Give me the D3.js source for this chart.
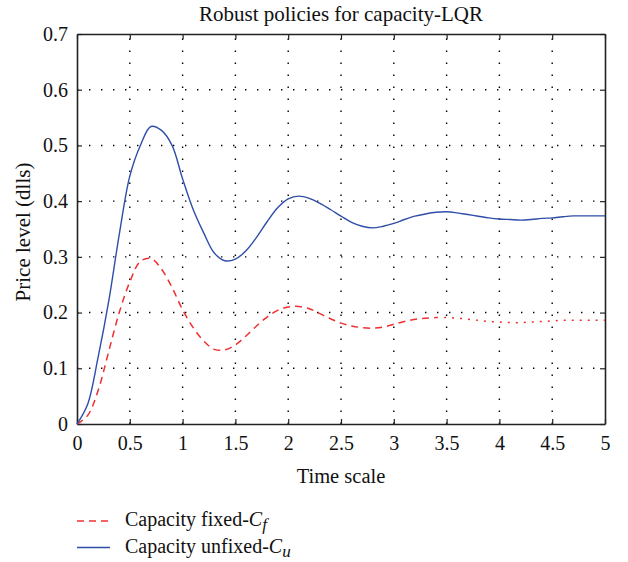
<!DOCTYPE html>
<html><head><meta charset="utf-8">
<script src="https://cdn.jsdelivr.net/npm/d3@7"></script>
<style>
body{margin:0;background:#fff;}
text{font-family:"Liberation Serif","Times New Roman","DejaVu Serif",serif;fill:#111;}
</style></head>
<body><svg id="c" width="628" height="562"></svg>
<script>
const title = "Robust policies for capacity-LQR";
const xLabel = "Time scale";
const yLabel = "Price level (dlls)";
const xTicks = [0,0.5,1,1.5,2,2.5,3,3.5,4,4.5,5];
const yTicks = [0,0.1,0.2,0.3,0.4,0.5,0.6,0.7];
const time = [0,0.1,0.2,0.3,0.4,0.5,0.6,0.7,0.8,0.9,1.0,1.1,1.2,1.3,1.4,1.5,1.6,1.7,1.8,1.9,2.0,2.1,2.2,2.3,2.4,2.5,2.6,2.7,2.8,2.9,3.0,3.1,3.2,3.3,3.4,3.5,3.6,3.7,3.8,3.9,4.0,4.1,4.2,4.3,4.4,4.5,4.6,4.7,4.8,4.9,5.0];
const capFixed = [0,0.015,0.06,0.13,0.20,0.255,0.292,0.297,0.278,0.245,0.205,0.173,0.149,0.134,0.133,0.142,0.158,0.176,0.192,0.204,0.210,0.211,0.207,0.198,0.189,0.181,0.176,0.173,0.172,0.174,0.179,0.184,0.188,0.190,0.191,0.191,0.190,0.188,0.186,0.184,0.183,0.182,0.182,0.183,0.184,0.185,0.186,0.186,0.186,0.186,0.186];
const capUnfixed = [0,0.035,0.12,0.22,0.34,0.445,0.50,0.534,0.527,0.50,0.44,0.385,0.343,0.307,0.293,0.296,0.311,0.335,0.363,0.388,0.404,0.409,0.405,0.396,0.385,0.373,0.362,0.355,0.352,0.355,0.360,0.367,0.373,0.377,0.380,0.381,0.379,0.376,0.373,0.370,0.368,0.367,0.366,0.367,0.369,0.370,0.372,0.3735,0.3735,0.3735,0.3735];
const dashedUntil = 3.4;
const FONT = '"Liberation Serif","Times New Roman","DejaVu Serif",serif';

const svg = d3.select("#c");
const L=77,R=605,T=34,B=424;
const x = d3.scaleLinear().domain([0,5]).range([L,R]);
const y = d3.scaleLinear().domain([0,0.7]).range([B,T]);

// grid
const g = svg.append("g");
xTicks.slice(1,-1).forEach(v=>g.append("line").attr("x1",x(v)).attr("x2",x(v)).attr("y1",B).attr("y2",T)
  .attr("stroke","#000").attr("stroke-width",1.4).attr("stroke-dasharray","1.4,10.6"));
yTicks.slice(1,-1).forEach(v=>g.append("line").attr("x1",L).attr("x2",R).attr("y1",y(v)).attr("y2",y(v))
  .attr("stroke","#000").attr("stroke-width",1.4).attr("stroke-dasharray","1.4,10.6"));

// axes
const ax = d3.axisBottom(x).tickValues(xTicks).tickFormat(d3.format("")).tickSizeInner(-5).tickSizeOuter(0).tickPadding(12);
const ay = d3.axisLeft(y).tickValues(yTicks).tickFormat(d3.format("")).tickSizeInner(-5).tickSizeOuter(0).tickPadding(9);
const axT = d3.axisTop(x).tickValues(xTicks).tickFormat("").tickSizeInner(-5).tickSizeOuter(0);
const ayR = d3.axisRight(y).tickValues(yTicks).tickFormat("").tickSizeInner(-5).tickSizeOuter(0);
[[ax,`translate(0,${B})`],[ay,`translate(${L},0)`],[axT,`translate(0,${T})`],[ayR,`translate(${R},0)`]].forEach(([a,t])=>{
  const gg = svg.append("g").attr("transform",t).call(a).attr("font-family",FONT).attr("font-size",20);
  gg.selectAll("path").attr("stroke","#222").attr("stroke-width",1.6);
  gg.selectAll("line").attr("stroke","#222").attr("stroke-width",1.2);
  gg.selectAll("text").style("font-family",FONT).style("font-size","20px").attr("fill","#111");
});

// lines
const pts = (vals)=>time.map((t,i)=>[t,vals[i]]);
const line = d3.line().x(d=>x(d[0])).y(d=>y(d[1])).curve(d3.curveCatmullRom);
const red = pts(capFixed);
svg.append("path").attr("d",line(red.filter(d=>d[0]<=dashedUntil))).attr("fill","none")
  .attr("stroke","#f03030").attr("stroke-width",1.5).attr("stroke-dasharray","7,5");
svg.append("path").attr("d",line(red.filter(d=>d[0]>=dashedUntil))).attr("fill","none")
  .attr("stroke","#f03030").attr("stroke-width",1.5).attr("stroke-dasharray","2,6");
svg.append("path").attr("d",line(pts(capUnfixed))).attr("fill","none")
  .attr("stroke","#2e4ea8").attr("stroke-width",1.4);

// texts
svg.append("text").attr("x",(L+R)/2).attr("y",21).attr("text-anchor","middle").style("font-size","21px").text(title);
svg.append("text").attr("x",(L+R)/2).attr("y",483).attr("text-anchor","middle").style("font-size","20.5px").text(xLabel);
svg.append("text").attr("transform",`translate(30,${(T+B)/2+3}) rotate(-90)`).attr("text-anchor","middle").style("font-size","21px").text(yLabel);

// legend
const leg = [
  {label:"Capacity fixed-", sub:"f", color:"#f03030", dash:"7,5", yy:521, base:526},
  {label:"Capacity unfixed-", sub:"u", color:"#2e4ea8", dash:null, yy:547.5, base:553}
];
leg.forEach(d=>{
  svg.append("line").attr("x1",77).attr("x2",110).attr("y1",d.yy).attr("y2",d.yy)
    .attr("stroke",d.color).attr("stroke-width",1.5).attr("stroke-dasharray",d.dash);
  const t = svg.append("text").attr("x",125).attr("y",d.base).style("font-size","20px").text(d.label);
  t.append("tspan").style("font-style","italic").text("C");
  t.append("tspan").attr("dy",4).style("font-style","italic").style("font-size","17px").text(d.sub);
});
</script></body></html>
